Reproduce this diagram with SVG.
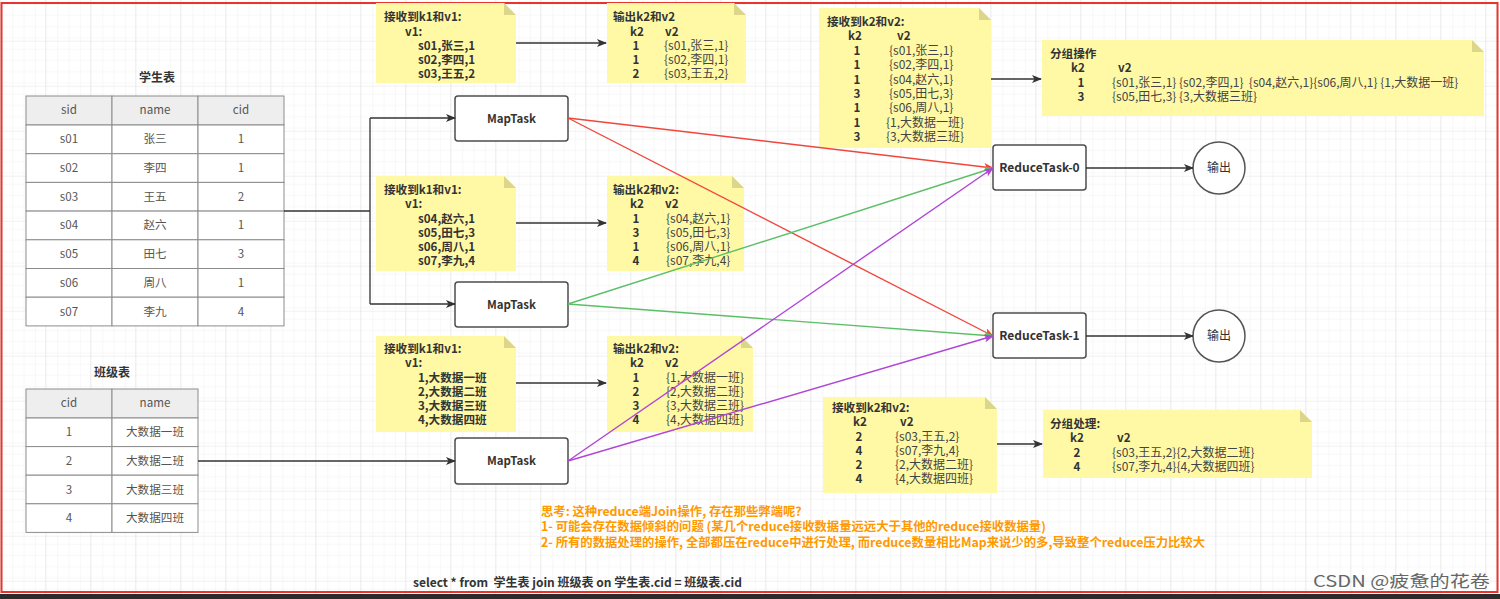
<svg xmlns="http://www.w3.org/2000/svg" width="1500" height="599" viewBox="0 0 1500 599">
<defs>
<pattern id="minor" x="1" y="-3.3" width="11.25" height="11.25" patternUnits="userSpaceOnUse">
<path d="M11.25 0V11.25H0" fill="none" stroke="#f0f0f0" stroke-width="1"/>
</pattern>
<pattern id="major" x="1" y="-3.3" width="45" height="45" patternUnits="userSpaceOnUse">
<rect width="45" height="45" fill="url(#minor)"/>
<path d="M45 0V45H0" fill="none" stroke="#e2e2e2" stroke-width="1"/>
</pattern>
<marker id="ag" markerWidth="10" markerHeight="8" refX="9" refY="4" orient="auto" markerUnits="userSpaceOnUse"><path d="M0,0 L10,4 L0,8 L2.5,4 Z" fill="#333"/></marker>
<marker id="ar" markerWidth="10" markerHeight="8" refX="9" refY="4" orient="auto" markerUnits="userSpaceOnUse"><path d="M0,0 L10,4 L0,8 L2.5,4 Z" fill="#f0463c"/></marker>
<marker id="agr" markerWidth="10" markerHeight="8" refX="9" refY="4" orient="auto" markerUnits="userSpaceOnUse"><path d="M0,0 L10,4 L0,8 L2.5,4 Z" fill="#5cbf66"/></marker>
<marker id="ap" markerWidth="10" markerHeight="8" refX="9" refY="4" orient="auto" markerUnits="userSpaceOnUse"><path d="M0,0 L10,4 L0,8 L2.5,4 Z" fill="#b045d6"/></marker>
<style>
text{font-family:"Noto Sans CJK SC","Noto Sans",sans-serif;}
.t{font-size:11.6px;fill:#555;text-anchor:middle;}
.title{font-size:12px;font-weight:bold;fill:#333;text-anchor:middle;}
.nb{font-size:11.6px;font-weight:bold;fill:#333;}
.nn{font-size:12px;fill:#444;}
.kc{font-size:11.6px;font-weight:bold;fill:#333;text-anchor:middle;}
.note{fill:#fff9a6;}
.fold{fill:#dcd68a;}
.cell{fill:#fff;stroke:#8c8c8c;stroke-width:1;}
.hdr{fill:#eeeeee;stroke:#8c8c8c;stroke-width:1;}
.box{fill:#fff;stroke:#4d4d4d;stroke-width:1.5;}
.bt{font-size:11.5px;font-weight:bold;fill:#333;text-anchor:middle;}
.ln{fill:none;stroke:#333;stroke-width:1.3;}
.red{fill:none;stroke:#f0463c;stroke-width:1.4;}
.grn{fill:none;stroke:#5cbf66;stroke-width:1.4;}
.pur{fill:none;stroke:#b045d6;stroke-width:1.4;}
.or{font-size:12.35px;font-weight:bold;fill:#ff9900;}
</style>
</defs>
<rect width="1500" height="599" fill="#fff"/>
<rect x="0" y="0" width="1500" height="594" fill="url(#major)"/>
<rect x="1.5" y="3" width="1496" height="589" fill="none" stroke="#e8342c" stroke-width="2"/>
<rect x="0" y="594" width="1500" height="5" fill="#2b2b2b"/>

<g id="student-table">
<text class="title" x="157" y="82">学生表</text>
<rect class="hdr" x="26" y="96" width="86" height="29"/><rect class="hdr" x="112" y="96" width="86" height="29"/><rect class="hdr" x="198" y="96" width="86" height="29"/>
<text class="t" x="69" y="114">sid</text><text class="t" x="155" y="114">name</text><text class="t" x="241" y="114">cid</text>
<g>
<rect class="cell" x="26" y="125" width="86" height="28.7"/><rect class="cell" x="112" y="125" width="86" height="28.7"/><rect class="cell" x="198" y="125" width="86" height="28.7"/>
<rect class="cell" x="26" y="153.7" width="86" height="28.7"/><rect class="cell" x="112" y="153.7" width="86" height="28.7"/><rect class="cell" x="198" y="153.7" width="86" height="28.7"/>
<rect class="cell" x="26" y="182.4" width="86" height="28.7"/><rect class="cell" x="112" y="182.4" width="86" height="28.7"/><rect class="cell" x="198" y="182.4" width="86" height="28.7"/>
<rect class="cell" x="26" y="211.1" width="86" height="28.7"/><rect class="cell" x="112" y="211.1" width="86" height="28.7"/><rect class="cell" x="198" y="211.1" width="86" height="28.7"/>
<rect class="cell" x="26" y="239.8" width="86" height="28.7"/><rect class="cell" x="112" y="239.8" width="86" height="28.7"/><rect class="cell" x="198" y="239.8" width="86" height="28.7"/>
<rect class="cell" x="26" y="268.5" width="86" height="28.7"/><rect class="cell" x="112" y="268.5" width="86" height="28.7"/><rect class="cell" x="198" y="268.5" width="86" height="28.7"/>
<rect class="cell" x="26" y="297.2" width="86" height="28.7"/><rect class="cell" x="112" y="297.2" width="86" height="28.7"/><rect class="cell" x="198" y="297.2" width="86" height="28.7"/>
</g>
<text class="t" x="69" y="143">s01</text><text class="t" x="155" y="143">张三</text><text class="t" x="241" y="143">1</text>
<text class="t" x="69" y="172">s02</text><text class="t" x="155" y="172">李四</text><text class="t" x="241" y="172">1</text>
<text class="t" x="69" y="200.5">s03</text><text class="t" x="155" y="200.5">王五</text><text class="t" x="241" y="200.5">2</text>
<text class="t" x="69" y="229">s04</text><text class="t" x="155" y="229">赵六</text><text class="t" x="241" y="229">1</text>
<text class="t" x="69" y="258">s05</text><text class="t" x="155" y="258">田七</text><text class="t" x="241" y="258">3</text>
<text class="t" x="69" y="287">s06</text><text class="t" x="155" y="287">周八</text><text class="t" x="241" y="287">1</text>
<text class="t" x="69" y="315.5">s07</text><text class="t" x="155" y="315.5">李九</text><text class="t" x="241" y="315.5">4</text>
</g>

<g id="class-table">
<text class="title" x="112" y="377">班级表</text>
<rect class="hdr" x="26" y="389" width="86" height="29"/><rect class="hdr" x="112" y="389" width="86" height="29"/>
<text class="t" x="69" y="407">cid</text><text class="t" x="155" y="407">name</text>
<rect class="cell" x="26" y="418" width="86" height="28.6"/><rect class="cell" x="112" y="418" width="86" height="28.6"/>
<rect class="cell" x="26" y="446.6" width="86" height="28.6"/><rect class="cell" x="112" y="446.6" width="86" height="28.6"/>
<rect class="cell" x="26" y="475.2" width="86" height="28.6"/><rect class="cell" x="112" y="475.2" width="86" height="28.6"/>
<rect class="cell" x="26" y="503.8" width="86" height="28.6"/><rect class="cell" x="112" y="503.8" width="86" height="28.6"/>
<text class="t" x="69" y="436">1</text><text class="t" x="155" y="436">大数据一班</text>
<text class="t" x="69" y="465">2</text><text class="t" x="155" y="465">大数据二班</text>
<text class="t" x="69" y="493.5">3</text><text class="t" x="155" y="493.5">大数据三班</text>
<text class="t" x="69" y="522">4</text><text class="t" x="155" y="522">大数据四班</text>
</g>

<g id="maptask-1"><rect class="box" x="455" y="96" width="113" height="45" rx="3"/><text class="bt" x="511.5" y="122.5">MapTask</text></g>
<g id="maptask-2"><rect class="box" x="455" y="282" width="113" height="45" rx="3"/><text class="bt" x="511.5" y="308.5">MapTask</text></g>
<g id="maptask-3"><rect class="box" x="455" y="438" width="113" height="46" rx="3"/><text class="bt" x="511.5" y="465">MapTask</text></g>
<g id="reducetask-0"><rect class="box" x="993" y="145" width="93" height="45" rx="3"/><text class="bt" x="1039.5" y="172" style="font-size:12px">ReduceTask-0</text></g>
<g id="reducetask-1"><rect class="box" x="993" y="313" width="93" height="45" rx="3"/><text class="bt" x="1039.5" y="340" style="font-size:12px">ReduceTask-1</text></g>
<g id="output-0"><circle cx="1219" cy="168" r="26" fill="#fff" stroke="#555" stroke-width="1.5"/><text class="t" x="1219" y="172" style="font-size:12px;fill:#333">输出</text></g>
<g id="output-1"><circle cx="1219" cy="336" r="26" fill="#fff" stroke="#555" stroke-width="1.5"/><text class="t" x="1219" y="340" style="font-size:12px;fill:#333">输出</text></g>

<g id="note-map1-in">
<path class="note" d="M376,3 H504 L516,15 V83 H376 Z"/><path class="fold" d="M504,3 V15 H516 Z"/>
<text class="nb" x="384" y="21">接收到k1和v1:</text>
<text class="nb" x="405" y="36">v1:</text>
<text class="nb" x="418" y="50">s01,张三,1</text>
<text class="nb" x="418" y="64">s02,李四,1</text>
<text class="nb" x="418" y="78">s03,王五,2</text>
</g>
<g id="note-map1-out">
<path class="note" d="M607,3 H734 L746,15 V83 H607 Z"/><path class="fold" d="M734,3 V15 H746 Z"/>
<text class="nb" x="613" y="21">输出k2和v2</text>
<text class="nb" x="630" y="36">k2</text><text class="nb" x="665" y="36">v2</text>
<text class="kc" x="636" y="50">1</text><text class="nn" x="664" y="50">{s01,张三,1}</text>
<text class="kc" x="636" y="64">1</text><text class="nn" x="664" y="64">{s02,李四,1}</text>
<text class="kc" x="636" y="78">2</text><text class="nn" x="664" y="78">{s03,王五,2}</text>
</g>

<g id="note-map2-in">
<path class="note" d="M376,176 H504 L516,188 V271 H376 Z"/><path class="fold" d="M504,176 V188 H516 Z"/>
<text class="nb" x="384" y="194">接收到k1和v1:</text>
<text class="nb" x="405" y="208">v1:</text>
<text class="nb" x="418" y="223">s04,赵六,1</text>
<text class="nb" x="418" y="237">s05,田七,3</text>
<text class="nb" x="418" y="251">s06,周八,1</text>
<text class="nb" x="418" y="265">s07,李九,4</text>
</g>
<g id="note-map2-out">
<path class="note" d="M607,176 H732 L744,188 V271 H607 Z"/><path class="fold" d="M732,176 V188 H744 Z"/>
<text class="nb" x="613" y="194">输出k2和v2:</text>
<text class="nb" x="630" y="208">k2</text><text class="nb" x="665" y="208">v2</text>
<text class="kc" x="636" y="223">1</text><text class="nn" x="666" y="223">{s04,赵六,1}</text>
<text class="kc" x="636" y="237">3</text><text class="nn" x="666" y="237">{s05,田七,3}</text>
<text class="kc" x="636" y="251">1</text><text class="nn" x="666" y="251">{s06,周八,1}</text>
<text class="kc" x="636" y="265">4</text><text class="nn" x="666" y="265">{s07,李九,4}</text>
</g>

<g id="note-map3-in">
<path class="note" d="M376,336 H504 L516,348 V432 H376 Z"/><path class="fold" d="M504,336 V348 H516 Z"/>
<text class="nb" x="384" y="353">接收到k1和v1:</text>
<text class="nb" x="405" y="367">v1:</text>
<text class="nb" x="418" y="382">1,大数据一班</text>
<text class="nb" x="418" y="396">2,大数据二班</text>
<text class="nb" x="418" y="410">3,大数据三班</text>
<text class="nb" x="418" y="424">4,大数据四班</text>
</g>
<g id="note-map3-out">
<path class="note" d="M607,336 H741 L753,348 V432 H607 Z"/><path class="fold" d="M741,336 V348 H753 Z"/>
<text class="nb" x="613" y="353">输出k2和v2:</text>
<text class="nb" x="630" y="367">k2</text><text class="nb" x="665" y="367">v2</text>
<text class="kc" x="636" y="382">1</text><text class="nn" x="666" y="382">{1,大数据一班}</text>
<text class="kc" x="636" y="396">2</text><text class="nn" x="666" y="396">{2,大数据二班}</text>
<text class="kc" x="636" y="410">3</text><text class="nn" x="666" y="410">{3,大数据三班}</text>
<text class="kc" x="636" y="424">4</text><text class="nn" x="666" y="424">{4,大数据四班}</text>
</g>

<g id="note-reduce0-in">
<path class="note" d="M819,8 H979 L991,20 V148 H819 Z"/><path class="fold" d="M979,8 V20 H991 Z"/>
<text class="nb" x="827" y="26">接收到k2和v2:</text>
<text class="nb" x="848" y="40">k2</text><text class="nb" x="897" y="40">v2</text>
<text class="kc" x="857" y="55">1</text><text class="nn" x="889" y="55">{s01,张三,1}</text>
<text class="kc" x="857" y="69">1</text><text class="nn" x="889" y="69">{s02,李四,1}</text>
<text class="kc" x="857" y="84">1</text><text class="nn" x="889" y="84">{s04,赵六,1}</text>
<text class="kc" x="857" y="98">3</text><text class="nn" x="889" y="98">{s05,田七,3}</text>
<text class="kc" x="857" y="112">1</text><text class="nn" x="889" y="112">{s06,周八,1}</text>
<text class="kc" x="857" y="127">1</text><text class="nn" x="886" y="127">{1,大数据一班}</text>
<text class="kc" x="857" y="141">3</text><text class="nn" x="886" y="141">{3,大数据三班}</text>
</g>
<g id="note-reduce0-group">
<path class="note" d="M1042,40 H1472 L1484,52 V116 H1042 Z"/><path class="fold" d="M1472,40 V52 H1484 Z"/>
<text class="nb" x="1050" y="58">分组操作</text>
<text class="nb" x="1071" y="72">k2</text><text class="nb" x="1118" y="72">v2</text>
<text class="kc" x="1081" y="87">1</text><text class="nn" x="1112" y="87" xml:space="preserve">{s01,张三,1} {s02,李四,1}  {s04,赵六,1}{s06,周八,1} {1,大数据一班}</text>
<text class="kc" x="1081" y="101">3</text><text class="nn" x="1112" y="101">{s05,田七,3} {3,大数据三班}</text>
</g>

<g id="note-reduce1-in">
<path class="note" d="M823,397 H985 L997,409 V493 H823 Z"/><path class="fold" d="M985,397 V409 H997 Z"/>
<text class="nb" x="832" y="412">接收到k2和v2:</text>
<text class="nb" x="853" y="426">k2</text><text class="nb" x="900" y="426">v2</text>
<text class="kc" x="859" y="441">2</text><text class="nn" x="895" y="441">{s03,王五,2}</text>
<text class="kc" x="859" y="455">4</text><text class="nn" x="895" y="455">{s07,李九,4}</text>
<text class="kc" x="859" y="469">2</text><text class="nn" x="895" y="469">{2,大数据二班}</text>
<text class="kc" x="859" y="483">4</text><text class="nn" x="895" y="483">{4,大数据四班}</text>
</g>
<g id="note-reduce1-group">
<path class="note" d="M1043,410 H1300 L1312,422 V478 H1043 Z"/><path class="fold" d="M1300,410 V422 H1312 Z"/>
<text class="nb" x="1050" y="428">分组处理:</text>
<text class="nb" x="1070" y="442">k2</text><text class="nb" x="1117" y="442">v2</text>
<text class="kc" x="1077" y="457">2</text><text class="nn" x="1112" y="457">{s03,王五,2}{2,大数据二班}</text>
<text class="kc" x="1077" y="471">4</text><text class="nn" x="1112" y="471">{s07,李九,4}{4,大数据四班}</text>
</g>

<g id="connectors">
<path class="ln" d="M284,211 H370"/>
<path class="ln" d="M370,118 V304"/>
<path class="ln" d="M370,118 H455" marker-end="url(#ag)"/>
<path class="ln" d="M370,304 H455" marker-end="url(#ag)"/>
<path class="ln" d="M198,461 H455" marker-end="url(#ag)"/>
<path class="ln" d="M516,43 H606" marker-end="url(#ag)"/>
<path class="ln" d="M516,223 H606" marker-end="url(#ag)"/>
<path class="ln" d="M516,383 H606" marker-end="url(#ag)"/>
<path class="ln" d="M991,79 H1041" marker-end="url(#ag)"/>
<path class="ln" d="M997,444 H1042" marker-end="url(#ag)"/>
<path class="ln" d="M1086,168 H1193" marker-end="url(#ag)"/>
<path class="ln" d="M1086,336 H1193" marker-end="url(#ag)"/>
<path class="red" d="M568,118 L993,168" marker-end="url(#ar)"/>
<path class="red" d="M568,118 L993,336" marker-end="url(#ar)"/>
<path class="grn" d="M568,304 L993,168" marker-end="url(#agr)"/>
<path class="grn" d="M568,304 L993,336" marker-end="url(#agr)"/>
<path class="pur" d="M568,461 L993,168" marker-end="url(#ap)"/>
<path class="pur" d="M568,461 L993,336" marker-end="url(#ap)"/>
</g>

<g id="thoughts">
<text class="or" x="541" y="516">思考: 这种reduce端Join操作, 存在那些弊端呢?</text>
<text class="or" x="541" y="531">1- 可能会存在数据倾斜的问题 (某几个reduce接收数据量远远大于其他的reduce接收数据量)</text>
<text class="or" x="541" y="547">2- 所有的数据处理的操作, 全部都压在reduce中进行处理, 而reduce数量相比Map来说少的多,导致整个reduce压力比较大</text>
</g>
<text x="413" y="587" style="font-size:12px;font-weight:bold;fill:#333" xml:space="preserve">select * from  学生表 join 班级表 on 学生表.cid = 班级表.cid</text>
<text x="1313" y="587" textLength="177" lengthAdjust="spacingAndGlyphs" style="font-size:16px;fill:#666">CSDN @疲惫的花卷</text>
</svg>
